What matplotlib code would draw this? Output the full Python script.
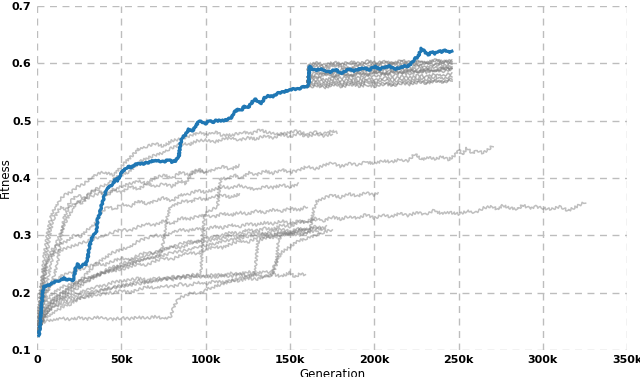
import matplotlib
matplotlib.use('Agg')
import matplotlib.pyplot as plt
from matplotlib.ticker import FuncFormatter, MultipleLocator

# generations are in thousands, fitness as plotted
best_run = [(1, 0.125), (1.5, 0.135), (2, 0.15), (2.5, 0.17), (3, 0.19), (3.5, 0.205), (4, 0.21),
            (6, 0.212), (8, 0.215), (10, 0.218), (12, 0.22), (14, 0.222), (16, 0.225), (18, 0.222),
            (20, 0.223), (21, 0.22), (22, 0.228), (23, 0.245), (24, 0.25), (25, 0.243), (27, 0.248),
            (29, 0.25), (30, 0.26), (31, 0.28), (32, 0.29), (33, 0.3), (35, 0.305), (36, 0.33),
            (37, 0.335), (38, 0.35), (40, 0.37), (41, 0.38), (43, 0.385), (45, 0.39), (47, 0.40),
            (48, 0.395), (50, 0.41), (52, 0.415), (54, 0.42), (56, 0.418), (58, 0.423), (60, 0.425),
            (63, 0.425), (66, 0.427), (69, 0.43), (72, 0.43), (75, 0.428), (78, 0.432), (80, 0.428),
            (82, 0.43), (84, 0.437), (85, 0.46), (86, 0.47), (88, 0.475), (90, 0.485), (92, 0.482),
            (94, 0.49), (96, 0.5), (98, 0.497), (100, 0.495), (102, 0.5), (104, 0.497), (106, 0.5),
            (110, 0.5), (113, 0.502), (115, 0.505), (117, 0.515), (119, 0.52), (121, 0.518),
            (123, 0.525), (125, 0.522), (127, 0.53), (129, 0.538), (131, 0.533), (133, 0.53),
            (135, 0.54), (137, 0.543), (140, 0.542), (143, 0.548), (146, 0.55), (149, 0.553),
            (152, 0.555), (155, 0.555), (158, 0.56), (160, 0.558), (161, 0.563), (161.5, 0.595),
            (163, 0.59), (165, 0.588), (168, 0.59), (171, 0.587), (174, 0.585), (177, 0.59),
            (180, 0.582), (182, 0.585), (185, 0.59), (188, 0.587), (191, 0.59), (194, 0.592),
            (197, 0.588), (200, 0.595), (203, 0.59), (206, 0.593), (209, 0.595), (212, 0.59),
            (215, 0.592), (218, 0.595), (220, 0.595), (222, 0.6), (224, 0.608), (226, 0.612),
            (228, 0.626), (230, 0.62), (232, 0.615), (234, 0.62), (236, 0.617), (238, 0.622),
            (240, 0.62), (242, 0.623), (244, 0.62), (246, 0.62)]

run_a = [(0, 0.13), (2, 0.2), (4, 0.26), (6, 0.3), (8, 0.33), (10, 0.345), (13, 0.36), (16, 0.37),
         (20, 0.375), (24, 0.385), (28, 0.39), (32, 0.40), (36, 0.408), (40, 0.41), (45, 0.405),
         (50, 0.42), (55, 0.435), (60, 0.45), (65, 0.455), (70, 0.46), (75, 0.455), (80, 0.465),
         (85, 0.468), (90, 0.472), (96, 0.48), (100, 0.476), (106, 0.48), (110, 0.474),
         (116, 0.475), (122, 0.48), (128, 0.478), (132, 0.484), (136, 0.48), (142, 0.476),
         (148, 0.478), (154, 0.482), (160, 0.476), (165, 0.48), (170, 0.477), (175, 0.482), (178, 0.479)]
run_b = [(0, 0.13), (3, 0.18), (6, 0.22), (9, 0.26), (12, 0.29), (15, 0.31), (18, 0.33), (21, 0.345),
         (24, 0.36), (27, 0.355), (30, 0.37), (34, 0.38), (38, 0.385), (42, 0.39), (46, 0.40),
         (50, 0.405), (54, 0.41), (58, 0.42), (62, 0.43), (66, 0.435), (70, 0.44), (74, 0.443),
         (78, 0.45), (82, 0.455), (86, 0.46), (90, 0.458), (95, 0.465), (100, 0.466), (105, 0.462),
         (110, 0.468), (115, 0.47), (120, 0.466), (125, 0.47), (130, 0.468), (135, 0.474),
         (140, 0.47), (145, 0.476), (150, 0.472), (155, 0.477), (160, 0.472), (165, 0.476),
         (170, 0.473), (175, 0.477)]
run_c = [(0, 0.13), (2, 0.17), (4, 0.22), (6, 0.27), (8, 0.31), (10, 0.33), (12, 0.34), (14, 0.35),
         (17, 0.345), (20, 0.36), (24, 0.37), (28, 0.365), (32, 0.375), (36, 0.38), (40, 0.37),
         (45, 0.38), (50, 0.375), (55, 0.385), (60, 0.38), (65, 0.39), (70, 0.385), (75, 0.39),
         (80, 0.385), (85, 0.395), (88, 0.39), (92, 0.41), (96, 0.415), (100, 0.41), (105, 0.415),
         (110, 0.42), (115, 0.415), (120, 0.422)]
run_d = [(0, 0.13), (3, 0.15), (6, 0.165), (10, 0.175), (15, 0.185), (20, 0.19), (25, 0.195),
         (30, 0.2), (35, 0.203), (40, 0.205), (45, 0.208), (50, 0.21), (55, 0.213), (60, 0.215),
         (65, 0.218), (70, 0.22), (75, 0.223), (80, 0.225), (85, 0.228), (90, 0.23), (95, 0.232),
         (97, 0.233), (98, 0.28), (99, 0.33), (100, 0.34), (104, 0.345), (107, 0.35), (108, 0.38),
         (109, 0.40), (113, 0.398), (117, 0.405), (121, 0.40), (126, 0.41), (130, 0.405),
         (135, 0.412), (140, 0.408), (145, 0.415), (150, 0.41), (155, 0.413), (160, 0.42),
         (165, 0.415), (170, 0.422), (175, 0.426), (180, 0.42), (185, 0.425), (190, 0.423),
         (195, 0.428), (200, 0.425), (205, 0.43), (210, 0.428), (215, 0.432), (220, 0.43),
         (224, 0.442), (228, 0.432), (232, 0.436), (236, 0.433), (240, 0.437), (244, 0.432),
         (248, 0.44), (250, 0.45), (252, 0.44), (255, 0.452), (258, 0.443), (261, 0.448),
         (264, 0.444), (267, 0.448), (270, 0.456)]
run_e = [(0, 0.13), (3, 0.15), (6, 0.165), (10, 0.18), (15, 0.19), (20, 0.2), (25, 0.21), (30, 0.22),
         (35, 0.23), (40, 0.235), (45, 0.24), (50, 0.25), (55, 0.255), (60, 0.26), (65, 0.265),
         (70, 0.27), (75, 0.275), (80, 0.28), (85, 0.285), (90, 0.29), (95, 0.288), (100, 0.295),
         (105, 0.298), (110, 0.30), (115, 0.305), (120, 0.303), (125, 0.31), (130, 0.308),
         (135, 0.312), (140, 0.31), (145, 0.318), (150, 0.315), (155, 0.322), (160, 0.325),
         (165, 0.33), (170, 0.325), (175, 0.332), (180, 0.328), (185, 0.333), (190, 0.33),
         (195, 0.336), (200, 0.33), (205, 0.335), (210, 0.332), (215, 0.338), (220, 0.334),
         (225, 0.34), (230, 0.336), (235, 0.343), (240, 0.338), (245, 0.34), (250, 0.337),
         (255, 0.342), (260, 0.34), (265, 0.348), (270, 0.35), (273, 0.345), (276, 0.352),
         (280, 0.348), (285, 0.345), (288, 0.353), (292, 0.347), (296, 0.35), (300, 0.347),
         (305, 0.345), (310, 0.35), (315, 0.343), (320, 0.35), (323, 0.355), (325, 0.358)]
run_f = [(0, 0.13), (2, 0.145), (5, 0.155), (10, 0.165), (15, 0.175), (20, 0.18), (25, 0.19),
         (30, 0.195), (35, 0.2), (40, 0.205), (45, 0.21), (50, 0.212), (55, 0.215), (60, 0.22),
         (65, 0.218), (70, 0.222), (75, 0.225), (80, 0.222), (85, 0.228), (90, 0.225), (95, 0.23),
         (100, 0.228), (105, 0.232), (110, 0.23), (115, 0.234), (120, 0.232), (125, 0.236),
         (130, 0.233), (135, 0.237), (140, 0.235), (142, 0.25), (143, 0.29), (145, 0.30),
         (150, 0.302), (155, 0.305), (160, 0.303), (162, 0.31), (164, 0.345), (166, 0.36),
         (170, 0.365), (175, 0.37), (180, 0.366), (185, 0.372), (190, 0.368), (195, 0.374),
         (200, 0.37), (202, 0.375)]
run_g = [(0, 0.13), (2, 0.15), (5, 0.17), (10, 0.185), (15, 0.19), (20, 0.195), (25, 0.2),
         (30, 0.205), (35, 0.21), (40, 0.212), (45, 0.218), (50, 0.22), (55, 0.222), (60, 0.225),
         (65, 0.222), (70, 0.226), (75, 0.224), (80, 0.228), (85, 0.225), (90, 0.23), (95, 0.227),
         (100, 0.229), (105, 0.226), (110, 0.23), (115, 0.228), (120, 0.232), (125, 0.229),
         (130, 0.231), (135, 0.228), (140, 0.232), (145, 0.228), (150, 0.235), (153, 0.227),
         (156, 0.233), (159, 0.23)]
run_h = [(0, 0.13), (2, 0.145), (5, 0.15), (10, 0.152), (15, 0.155), (20, 0.153), (25, 0.156),
         (30, 0.154), (35, 0.157), (40, 0.155), (45, 0.153), (50, 0.156), (55, 0.154), (60, 0.157),
         (65, 0.155), (70, 0.158), (75, 0.155), (79, 0.157), (81, 0.175), (84, 0.19), (88, 0.195),
         (92, 0.2), (96, 0.198), (100, 0.205), (105, 0.21), (110, 0.215), (115, 0.22), (120, 0.225),
         (125, 0.228), (129, 0.232), (130, 0.26), (131, 0.29), (135, 0.295), (140, 0.30),
         (145, 0.305), (150, 0.303), (155, 0.31), (160, 0.308), (165, 0.312), (170, 0.31), (172, 0.315)]
run_i = [(0, 0.13), (2, 0.18), (4, 0.22), (6, 0.25), (8, 0.27), (10, 0.28), (14, 0.285), (18, 0.29),
         (22, 0.30), (26, 0.298), (30, 0.31), (34, 0.32), (38, 0.34), (42, 0.35), (46, 0.345),
         (50, 0.355), (55, 0.35), (60, 0.36), (65, 0.355), (70, 0.36), (75, 0.365), (80, 0.36),
         (85, 0.37), (90, 0.372), (95, 0.378), (100, 0.375), (105, 0.38), (110, 0.385), (115, 0.382),
         (120, 0.387), (125, 0.383), (130, 0.38), (135, 0.385), (140, 0.383), (145, 0.388),
         (150, 0.384), (155, 0.39)]
run_j = [(0, 0.13), (3, 0.15), (6, 0.17), (10, 0.185), (15, 0.195), (20, 0.205), (25, 0.215),
         (30, 0.22), (35, 0.228), (40, 0.235), (45, 0.24), (50, 0.245), (55, 0.25), (60, 0.255),
         (65, 0.26), (70, 0.262), (73, 0.265), (75, 0.29), (77, 0.33), (79, 0.35), (83, 0.355),
         (87, 0.36), (91, 0.358), (95, 0.365), (100, 0.362), (105, 0.368), (110, 0.37),
         (115, 0.366), (120, 0.372)]
run_k = [(0, 0.13), (2, 0.17), (5, 0.2), (10, 0.22), (15, 0.23), (20, 0.235), (25, 0.24),
         (30, 0.245), (35, 0.25), (40, 0.248), (45, 0.255), (50, 0.26), (55, 0.258), (60, 0.265),
         (65, 0.27), (70, 0.268), (75, 0.275), (80, 0.28), (85, 0.278), (90, 0.285), (95, 0.29),
         (100, 0.288), (105, 0.293), (110, 0.295), (115, 0.3), (120, 0.298), (125, 0.303),
         (130, 0.305), (135, 0.302), (140, 0.308), (145, 0.31), (150, 0.307), (155, 0.312),
         (160, 0.31), (165, 0.315), (170, 0.312)]
run_l = [(0, 0.13), (2, 0.16), (5, 0.185), (10, 0.2), (15, 0.21), (20, 0.215), (25, 0.22),
         (30, 0.225), (35, 0.23), (40, 0.235), (45, 0.238), (50, 0.24), (55, 0.245), (60, 0.25),
         (65, 0.248), (70, 0.255), (75, 0.26), (80, 0.258), (85, 0.265), (90, 0.27), (95, 0.268),
         (100, 0.275), (105, 0.28), (110, 0.278), (115, 0.285), (120, 0.29), (125, 0.288),
         (130, 0.295), (135, 0.298), (140, 0.296), (145, 0.3), (150, 0.303), (155, 0.3),
         (160, 0.305), (165, 0.308), (168, 0.305)]
run_m = [(0, 0.13), (3, 0.16), (6, 0.18), (10, 0.19), (15, 0.2), (20, 0.21), (25, 0.22), (30, 0.235),
         (35, 0.25), (40, 0.26), (45, 0.27), (50, 0.275), (55, 0.28), (60, 0.29), (65, 0.295),
         (70, 0.3), (75, 0.298), (80, 0.305), (85, 0.31), (90, 0.308), (95, 0.312), (100, 0.31),
         (105, 0.315), (110, 0.313), (115, 0.318), (120, 0.315), (125, 0.32), (130, 0.318),
         (135, 0.322), (140, 0.32), (145, 0.325), (150, 0.32), (155, 0.326), (160, 0.322), (165, 0.327)]
run_n = [(0, 0.13), (2, 0.2), (4, 0.24), (7, 0.26), (10, 0.27), (15, 0.275), (20, 0.28), (25, 0.285),
         (30, 0.29), (35, 0.295), (40, 0.3), (45, 0.305), (50, 0.31), (55, 0.308), (60, 0.315),
         (65, 0.32), (70, 0.318), (75, 0.325), (80, 0.32), (85, 0.33), (90, 0.328), (95, 0.333),
         (100, 0.335), (105, 0.332), (110, 0.338), (115, 0.335), (120, 0.34), (125, 0.337),
         (130, 0.342), (135, 0.34), (140, 0.345), (145, 0.342), (150, 0.347), (155, 0.344), (160, 0.35)]
run_o = [(0, 0.13), (3, 0.15), (6, 0.165), (10, 0.175), (15, 0.18), (20, 0.185), (25, 0.19),
         (30, 0.193), (35, 0.195), (40, 0.198), (45, 0.2), (50, 0.203), (55, 0.2), (60, 0.205),
         (65, 0.21), (70, 0.208), (75, 0.212), (80, 0.21), (85, 0.215), (90, 0.212), (95, 0.218),
         (100, 0.215), (105, 0.22), (110, 0.218), (115, 0.222), (120, 0.22), (125, 0.225),
         (130, 0.223), (135, 0.228), (139, 0.23), (141, 0.25), (145, 0.27), (150, 0.28),
         (155, 0.29), (160, 0.295), (165, 0.3), (170, 0.305), (175, 0.31)]
run_p = [(0, 0.14), (3, 0.16), (6, 0.175), (10, 0.19), (15, 0.2), (20, 0.21), (25, 0.22), (30, 0.225),
         (35, 0.23), (40, 0.238), (45, 0.245), (50, 0.245), (55, 0.25), (60, 0.255), (65, 0.26),
         (70, 0.262), (75, 0.265), (80, 0.27), (85, 0.272), (90, 0.275), (95, 0.28), (100, 0.282),
         (105, 0.285), (110, 0.29), (115, 0.292), (120, 0.295), (125, 0.298), (130, 0.3),
         (135, 0.302), (140, 0.3), (145, 0.305), (150, 0.303), (155, 0.308), (160, 0.31)]
run_q = [(0, 0.13), (3, 0.17), (6, 0.2), (9, 0.22), (12, 0.25), (14, 0.29), (16, 0.33), (19, 0.35),
         (22, 0.355), (26, 0.36), (30, 0.365), (34, 0.37), (38, 0.375), (42, 0.37), (46, 0.38),
         (50, 0.385), (55, 0.39), (60, 0.395), (65, 0.39), (70, 0.4), (75, 0.405), (80, 0.40),
         (85, 0.41), (90, 0.405), (95, 0.412), (100, 0.41)]

lower_runs = [run_a, run_b, run_c, run_d, run_e, run_f, run_g, run_h, run_i,
              run_j, run_k, run_l, run_m, run_n, run_o, run_p, run_q]

# restarts from the best individual at ~161k
restart_from = (160.5, 0.562)
restart_gen = [161, 166, 171, 176, 181, 186, 191, 196, 201, 206, 211, 216, 221, 226, 231, 236, 241, 246]
restart_fit = [
    [0.598, 0.601, 0.597, 0.602, 0.599, 0.603, 0.6, 0.604, 0.601, 0.603, 0.6, 0.605, 0.602, 0.604, 0.601, 0.606, 0.603, 0.605],
    [0.592, 0.595, 0.59, 0.596, 0.593, 0.591, 0.597, 0.594, 0.598, 0.595, 0.599, 0.596, 0.6, 0.597, 0.601, 0.598, 0.602, 0.6],
    [0.585, 0.59, 0.587, 0.583, 0.589, 0.592, 0.588, 0.591, 0.587, 0.593, 0.59, 0.594, 0.592, 0.597, 0.594, 0.598, 0.596, 0.599],
    [0.58, 0.584, 0.581, 0.586, 0.583, 0.587, 0.584, 0.588, 0.585, 0.589, 0.586, 0.59, 0.588, 0.592, 0.59, 0.594, 0.591, 0.595],
    [0.576, 0.58, 0.583, 0.578, 0.582, 0.579, 0.584, 0.581, 0.585, 0.582, 0.586, 0.584, 0.588, 0.585, 0.589, 0.587, 0.591, 0.589],
    [0.572, 0.575, 0.571, 0.576, 0.574, 0.578, 0.575, 0.579, 0.577, 0.581, 0.579, 0.583, 0.581, 0.586, 0.584, 0.588, 0.586, 0.59],
    [0.568, 0.571, 0.567, 0.572, 0.569, 0.573, 0.57, 0.574, 0.571, 0.575, 0.573, 0.577, 0.575, 0.579, 0.577, 0.581, 0.579, 0.583],
    [0.564, 0.567, 0.563, 0.568, 0.565, 0.569, 0.566, 0.57, 0.567, 0.571, 0.568, 0.572, 0.57, 0.574, 0.572, 0.576, 0.574, 0.577],
    [0.561, 0.564, 0.56, 0.565, 0.562, 0.566, 0.563, 0.567, 0.564, 0.566, 0.563, 0.568, 0.566, 0.57, 0.567, 0.571, 0.569, 0.573],
    [0.558, 0.561, 0.557, 0.562, 0.559, 0.563, 0.56, 0.562, 0.559, 0.564, 0.561, 0.565, 0.563, 0.567, 0.565, 0.569, 0.567, 0.571],
    [0.595, 0.598, 0.594, 0.599, 0.596, 0.6, 0.597, 0.601, 0.598, 0.602, 0.599, 0.603, 0.6, 0.604, 0.602, 0.605, 0.603, 0.604],
    [0.578, 0.575, 0.58, 0.577, 0.581, 0.578, 0.582, 0.58, 0.584, 0.581, 0.585, 0.583, 0.587, 0.585, 0.589, 0.587, 0.592, 0.59],
]

GRAY = '#808080'
BLUE = '#1f77b4'

fig = plt.figure(figsize=(6.4, 3.77), dpi=100)
ax = fig.add_axes([0.058, 0.072, 0.922, 0.912])

# a small wiggle from matplotlib's sketch style makes the traces look noisy
for run in lower_runs:
    ln, = ax.plot([g * 1000 for g, f in run], [f for g, f in run], color=GRAY, alpha=0.5, lw=1.1)
    ln.set_sketch_params(1.3, 4, 2)
for fits in restart_fit:
    xs = [restart_from[0] * 1000] + [g * 1000 for g in restart_gen]
    ys = [restart_from[1]] + fits
    ln, = ax.plot(xs, ys, color=GRAY, alpha=0.6, lw=1.1)
    ln.set_sketch_params(1.2, 4, 2)
ln, = ax.plot([g * 1000 for g, f in best_run], [f for g, f in best_run], color=BLUE, lw=2.3)
ln.set_sketch_params(0.7, 4, 2)

ax.set_xlim(0, 350000)
ax.set_ylim(0.1, 0.7)
ax.xaxis.set_major_locator(MultipleLocator(50000))
ax.yaxis.set_major_locator(MultipleLocator(0.1))
ax.xaxis.set_major_formatter(FuncFormatter(lambda v, p: '0' if v == 0 else '%dk' % (v / 1000)))
ax.yaxis.set_major_formatter(FuncFormatter(lambda v, p: '%.1f' % v))
for s in ax.spines.values():
    s.set_visible(False)
ax.grid(True, color='#bdbdbd', ls=(0, (5, 4)), lw=1)
ax.tick_params(length=0, labelsize=8, pad=4)
for lbl in ax.get_xticklabels() + ax.get_yticklabels():
    lbl.set_fontweight('bold')
ax.set_xlabel('Generation', fontsize=8.5, labelpad=2)
ax.set_ylabel('Fitness', fontsize=8.5, labelpad=0)

fig.savefig('out.png', dpi=100)
